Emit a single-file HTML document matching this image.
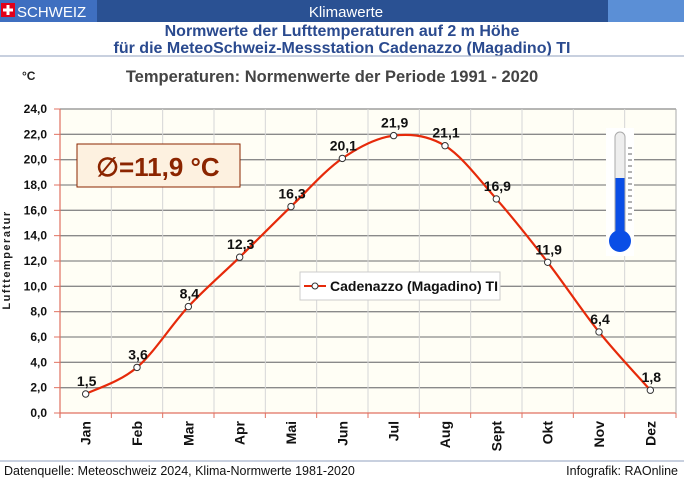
<!DOCTYPE html>
<html><head><meta charset="utf-8"><style>
body{margin:0;width:684px;height:483px;overflow:hidden;background:#fff;font-family:"Liberation Sans",Arial,sans-serif}
svg{display:block}
</style></head><body>
<svg width="684" height="483" viewBox="0 0 684 483" font-family="Liberation Sans, Arial, sans-serif">
<rect x="0" y="0" width="684" height="22" fill="#2a5193"/>
<rect x="0" y="0" width="97" height="22" fill="#3f6fc0"/>
<rect x="608" y="0" width="76" height="22" fill="#5b8fd6"/>
<rect x="1" y="3" width="14" height="14" fill="#e2001a"/>
<rect x="6.5" y="5" width="3" height="10" fill="#fff"/><rect x="3" y="8.5" width="10" height="3" fill="#fff"/>
<text x="17" y="17" font-size="15" fill="#fff">SCHWEIZ</text>
<text x="346" y="17" font-size="15" fill="#fff" text-anchor="middle">Klimawerte</text>
<text x="342" y="36" font-size="16" font-weight="bold" fill="#2a4a8f" text-anchor="middle">Normwerte der Lufttemperaturen auf 2 m Höhe</text>
<text x="342" y="53" font-size="16" font-weight="bold" fill="#2a4a8f" text-anchor="middle">für die MeteoSchweiz-Messstation Cadenazzo (Magadino) TI</text>
<line x1="0" y1="56" x2="684" y2="56" stroke="#a8b4cc" stroke-width="1.2"/>
<text x="22" y="80" font-size="12" font-weight="bold" fill="#222">°C</text>
<text x="332" y="82" font-size="16.5" font-weight="bold" fill="#444" text-anchor="middle">Temperaturen: Normenwerte der Periode  1991 - 2020</text>
<rect x="60" y="109" width="616" height="304" fill="#fffef5"/>
<g id="grid"></g>
<text x="10" y="260" font-size="11" font-weight="bold" fill="#222" text-anchor="middle" transform="rotate(-90 10 260)" letter-spacing="1.5">Lufttemperatur</text>
<g id="ylab" font-size="12" font-weight="bold" fill="#111" text-anchor="end"></g>
<g id="xlab" font-size="14" font-weight="bold" fill="#111"></g>
<rect x="77" y="144" width="163" height="43" fill="#fdf1e0" stroke="#8b2500" stroke-width="1"/>
<text x="158" y="176" font-size="26" font-weight="bold" fill="#8b2500" text-anchor="middle">∅=11,9 °C</text>
<rect x="300" y="272" width="200" height="28" fill="#fff" stroke="#ccc"/>
<line x1="304" y1="286" x2="326" y2="286" stroke="#e62a0a" stroke-width="2"/>
<circle cx="315" cy="286" r="3" fill="#fff" stroke="#333"/>
<text x="330" y="291" font-size="14" font-weight="bold" fill="#111">Cadenazzo (Magadino) TI</text>
<path id="curve" fill="none" stroke="#e62a0a" stroke-width="2.2"/>
<g id="pts"></g>
<g id="vals" font-size="14" font-weight="bold" fill="#111" text-anchor="middle"></g>
<rect x="606" y="128" width="28" height="128" fill="#fff"/>
<rect x="615" y="132" width="10" height="108" rx="5" fill="#eee" stroke="#aaa"/>
<rect x="615.5" y="178" width="9" height="64" fill="#0a4ee6"/>
<circle cx="620" cy="241" r="11" fill="#0a4ee6"/>
<g stroke="#666" stroke-width="1"><line x1="628" y1="148" x2="632" y2="148"/><line x1="628" y1="154" x2="632" y2="154"/><line x1="628" y1="160" x2="632" y2="160"/><line x1="628" y1="166" x2="632" y2="166"/><line x1="628" y1="172" x2="632" y2="172"/><line x1="628" y1="178" x2="632" y2="178"/><line x1="628" y1="184" x2="632" y2="184"/><line x1="628" y1="190" x2="632" y2="190"/><line x1="628" y1="196" x2="632" y2="196"/><line x1="628" y1="202" x2="632" y2="202"/><line x1="628" y1="208" x2="632" y2="208"/><line x1="628" y1="214" x2="632" y2="214"/><line x1="628" y1="220" x2="632" y2="220"/></g>
<line x1="0" y1="461" x2="684" y2="461" stroke="#a8b4cc" stroke-width="1.2"/>
<text x="4" y="475" font-size="12.5" fill="#111">Datenquelle:  Meteoschweiz 2024,  Klima-Normwerte 1981-2020</text>
<text x="678" y="475" font-size="12.5" fill="#111" text-anchor="end">Infografik:  RAOnline</text>
</svg>
<script>
var NS="http://www.w3.org/2000/svg";
function el(p,t,a,txt){var e=document.createElementNS(NS,t);for(var k in a)e.setAttribute(k,a[k]);if(txt!=null)e.textContent=txt;document.getElementById(p).appendChild(e);return e;}
var L=60,R=676,T=109,B=413,sp=(R-L)/12,k=(B-T)/24;
for(var i=0;i<=12;i++){var y=B-i*2*k;
 if(i>0)el("grid","line",{x1:L,y1:y,x2:R,y2:y,stroke:"#8a8a8a","stroke-width":1.3});
 el("grid","line",{x1:54,y1:y,x2:L,y2:y,stroke:"#e07060","stroke-width":1});}
for(var j=1;j<=12;j++){var x=L+j*sp;el("grid","line",{x1:x,y1:T,x2:x,y2:B,stroke:"#d6d6d6","stroke-width":1});
 el("grid","line",{x1:x,y1:B,x2:x,y2:B+5,stroke:"#e07060"});}
el("grid","line",{x1:L,y1:T,x2:L,y2:B+5,stroke:"#e07060","stroke-width":1.2});
el("grid","line",{x1:L,y1:B,x2:R,y2:B,stroke:"#e07060","stroke-width":1.2});
el("grid","line",{x1:R,y1:T,x2:R,y2:B,stroke:"#aaa"});
</script>
<script>
var ys=["0,0","2,0","4,0","6,0","8,0","10,0","12,0","14,0","16,0","18,0","20,0","22,0","24,0"];
for(var i=0;i<=12;i++)el("ylab","text",{x:47,y:B-i*2*k+4},ys[i]);
var m=["Jan","Feb","Mar","Apr","Mai","Jun","Jul","Aug","Sept","Okt","Nov","Dez"];
var v=[1.5,3.6,8.4,12.3,16.3,20.1,21.9,21.1,16.9,11.9,6.4,1.8];
var P=[];for(var i=0;i<12;i++)P.push([L+sp*(i+0.5),B-v[i]*k]);
for(var i=0;i<12;i++){var x=P[i][0]+5,y=421;el("xlab","text",{x:x,y:y,"text-anchor":"end",transform:"rotate(-90 "+x+" "+y+")"},m[i]);}
var d="M"+P[0][0]+","+P[0][1];
for(var i=0;i<11;i++){var p0=P[Math.max(i-1,0)],p1=P[i],p2=P[i+1],p3=P[Math.min(i+2,11)];
 d+=" C"+(p1[0]+(p2[0]-p0[0])/6)+","+(p1[1]+(p2[1]-p0[1])/6)+" "+(p2[0]-(p3[0]-p1[0])/6)+","+(p2[1]-(p3[1]-p1[1])/6)+" "+p2[0]+","+p2[1];}
document.getElementById("curve").setAttribute("d",d);
var vs=["1,5","3,6","8,4","12,3","16,3","20,1","21,9","21,1","16,9","11,9","6,4","1,8"];
for(var i=0;i<12;i++){el("pts","circle",{cx:P[i][0],cy:P[i][1],r:3.2,fill:"#fff",stroke:"#333","stroke-width":1});
 el("vals","text",{x:P[i][0]+1,y:P[i][1]-8},vs[i]);}
</script>
</body></html>
